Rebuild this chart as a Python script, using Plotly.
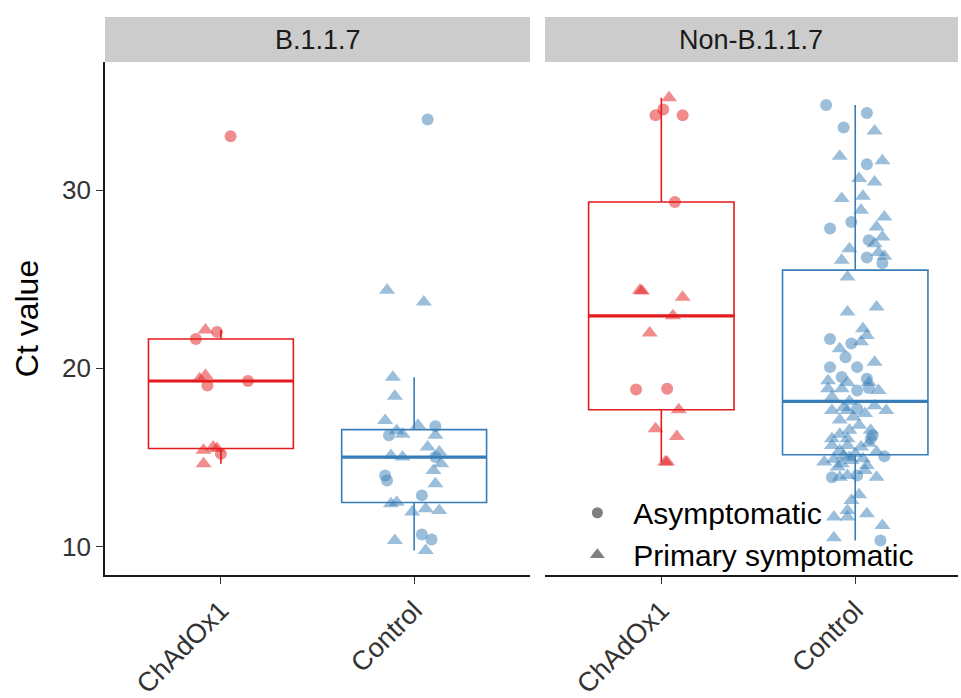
import numpy as np
import plotly.graph_objects as go

# ---------------- data ----------------
variants = ["B.1.1.7", "Non-B.1.1.7"]
arms = ["ChAdOx1", "Control"]
y_ticks = [10, 20, 30]
symptom_labels = {"A": "Asymptomatic", "P": "Primary symptomatic"}

# B.1.1.7 / ChAdOx1
b117_chadox_ct = [33.03, 22.15, 22.04, 21.65, 19.42, 19.6, 19.04, 19.29, 15.4, 15.58, 15.5, 15.2, 14.65]
b117_chadox_sym = ["A", "P", "A", "A", "P", "P", "A", "A", "P", "P", "P", "A", "P"]
b117_chadox_jit = [0.05, -0.08, -0.02, -0.13, -0.11, -0.08, -0.07, 0.14, -0.09, -0.04, -0.02, 0.00, -0.09]

# B.1.1.7 / Control
b117_control_ct = [33.97, 24.38, 23.73, 19.5, 18.43, 17.08, 16.8, 16.75, 16.24, 16.5,
                   16.3, 16.24, 15.58, 15.3, 15.11, 15.02, 15.02, 14.65, 14.27, 13.99,
                   13.71, 13.52, 12.87, 12.4, 12.49, 11.93, 12.12, 12.02, 10.67, 10.39,
                   10.34, 9.78]
b117_control_sym = ["A", "P", "P", "P", "P", "P", "P", "A", "A", "P",
                    "P", "P", "P", "P", "P", "P", "A", "P", "P", "A",
                    "A", "P", "A", "P", "P", "P", "P", "P", "A", "A",
                    "P", "P"]
b117_control_jit = [0.07, -0.14, 0.05, -0.11, -0.10, -0.15, 0.02, 0.11, -0.13, -0.09,
                    -0.06, 0.11, 0.07, 0.13, -0.12, -0.06, 0.11, 0.14, 0.10, -0.15,
                    -0.14, 0.11, 0.04, -0.12, -0.09, -0.01, 0.06, 0.13, 0.04, 0.09,
                    -0.10, 0.06]

# Non-B.1.1.7 / ChAdOx1
non_chadox_ct = [35.2, 34.53, 34.21, 34.21, 29.34, 24.38, 24.34, 24.0, 22.95, 21.98,
                 18.82, 18.86, 17.68, 16.61, 16.18, 14.75, 14.75]
non_chadox_sym = ["P", "A", "A", "A", "A", "P", "P", "P", "P", "P",
                  "A", "A", "P", "P", "P", "P", "P"]
non_chadox_jit = [0.04, 0.01, -0.03, 0.11, 0.07, -0.11, -0.10, 0.11, 0.06, -0.06,
                  -0.13, 0.03, 0.09, -0.03, 0.08, 0.02, 0.03]

# Non-B.1.1.7 / Control
non_control_ct = [34.78, 34.34, 33.52, 33.33, 31.91, 31.46, 31.65, 30.66, 30.47, 29.53,
                  29.66, 28.88, 28.22, 27.85, 27.94, 27.38, 27.0, 26.72, 26.07, 26.22,
                  26.3, 25.9, 26.5, 27.2, 28.5,
                  25.13, 23.16, 23.44, 22.23, 21.85, 21.65, 21.4, 21.5, 21.1, 20.63,
                  20.35, 20.07, 20.07, 19.51, 19.3, 19.42, 19.2, 19.2, 18.76, 18.76,
                  18.86, 18.86, 18.9, 18.4,
                  18.15,
                  17.64, 17.64, 17.74, 17.46, 17.64, 17.27, 17.9, 17.8, 17.1, 16.8,
                  16.52, 16.52, 16.24, 16.3, 16.05, 16.05, 16.05, 15.8, 15.67, 15.67,
                  15.58, 15.39, 15.3, 15.2,
                  15.1, 15.06, 15.0, 14.93, 14.9, 14.83, 14.74, 14.65, 14.55, 14.46,
                  14.27, 13.99, 13.99, 13.89, 13.89, 13.89, 12.9, 12.58, 12.02, 11.84,
                  11.65, 11.65, 11.18, 10.49, 10.34]
non_control_sym = ["A", "A", "A", "P", "P", "A", "P", "P", "P", "P",
                   "P", "P", "A", "A", "P", "P", "P", "P", "P", "A",
                   "P", "A", "P", "A", "P",
                   "P", "P", "P", "P", "P", "A", "A", "P", "P", "A",
                   "P", "A", "A", "A", "P", "A", "P", "P", "A", "P",
                   "P", "P", "A", "P",
                   "P",
                   "P", "P", "A", "P", "P", "P", "P", "P", "P", "P",
                   "P", "P", "A", "P", "P", "P", "A", "P", "P", "P",
                   "P", "P", "P", "P",
                   "P", "A", "P", "P", "P", "P", "P", "P", "P", "P",
                   "P", "A", "P", "A", "P", "P", "P", "P", "P", "P",
                   "P", "P", "P", "P", "A"]
non_control_jit = [-0.15, 0.06, -0.06, 0.10, -0.08, 0.06, 0.14, 0.02, 0.10, -0.07,
                   0.04, 0.03, -0.02, -0.13, 0.11, 0.14, 0.10, -0.03, -0.07, 0.06,
                   0.15, 0.14, 0.12, 0.07, 0.15,
                   -0.04, -0.04, 0.11, 0.04, 0.06, -0.13, -0.02, 0.03, -0.08, -0.05,
                   0.10, -0.13, 0.01, -0.07, -0.14, 0.06, 0.07, -0.04, 0.01, 0.12,
                   -0.14, -0.07, 0.07, -0.12,
                   -0.03,
                   -0.12, -0.04, 0.01, 0.05, 0.16, -0.01, 0.10, -0.06, -0.08, 0.02,
                   -0.03, 0.08, 0.09, -0.08, -0.12, -0.04, 0.08, 0.07, -0.12, -0.04,
                   0.03, -0.08, 0.11, 0.00,
                   -0.06, 0.15, -0.03, 0.04, -0.11, -0.02, -0.16, -0.07, 0.06, -0.09,
                   0.05, 0.01, -0.04, -0.12, -0.08, 0.11, 0.02, -0.02, -0.04, 0.06,
                   -0.11, -0.04, 0.14, -0.11, 0.13]

# ---------------- style ----------------
arm_line = {"ChAdOx1": "#E41A1C", "Control": "#377EB8"}
arm_fill = {"ChAdOx1": "rgba(228,26,28,0.5)", "Control": "rgba(55,126,184,0.5)"}
sym_marker = {"A": ("circle", 12), "P": ("triangle-up", 14)}
FONT = "Liberation Sans, Arial, Helvetica, sans-serif"
BOX_W = 0.75

groups = [
    (0, "ChAdOx1", b117_chadox_ct, b117_chadox_sym, b117_chadox_jit),
    (0, "Control", b117_control_ct, b117_control_sym, b117_control_jit),
    (1, "ChAdOx1", non_chadox_ct, non_chadox_sym, non_chadox_jit),
    (1, "Control", non_control_ct, non_control_sym, non_control_jit),
]

fig = go.Figure()
for panel, arm, ct, sym, jit in groups:
    xa = "x" if panel == 0 else "x2"
    ya = "y" if panel == 0 else "y2"
    pos = arms.index(arm) + 1
    vals = np.array(ct)
    q1, med, q3 = np.percentile(vals, [25, 50, 75])
    iqr = q3 - q1
    lo = vals[vals >= q1 - 1.5 * iqr].min()
    hi = vals[vals <= q3 + 1.5 * iqr].max()
    fig.add_trace(go.Box(
        x=[pos], q1=[q1], median=[med], q3=[q3], lowerfence=[lo], upperfence=[hi],
        width=BOX_W, whiskerwidth=0, boxpoints=False,
        line=dict(color=arm_line[arm], width=1.6), fillcolor="rgba(0,0,0,0)",
        xaxis=xa, yaxis=ya, showlegend=False, hoverinfo="skip"))
    # thicker median (ggplot fatten)
    fig.add_trace(go.Scatter(
        x=[pos - BOX_W / 2, pos + BOX_W / 2], y=[med, med], mode="lines",
        line=dict(color=arm_line[arm], width=3.2), xaxis=xa, yaxis=ya,
        showlegend=False, hoverinfo="skip"))
    for s in ["A", "P"]:
        pts = [(pos + j, c) for c, k, j in zip(ct, sym, jit, strict=True) if k == s]
        if not pts:
            continue
        fig.add_trace(go.Scatter(
            x=[p[0] for p in pts], y=[p[1] for p in pts], mode="markers",
            marker=dict(symbol=sym_marker[s][0], size=sym_marker[s][1],
                        color=arm_fill[arm], line=dict(width=0)),
            xaxis=xa, yaxis=ya, showlegend=False, hoverinfo="skip"))

# legend-only entries
for i, s in enumerate(["A", "P"]):
    fig.add_trace(go.Scatter(
        x=[None], y=[None], mode="markers", name=symptom_labels[s],
        legendgroup=s,
        marker=dict(symbol=sym_marker[s][0], size=sym_marker[s][1] - 1,
                    color="rgba(0,0,0,0.5)", line=dict(width=0)),
        xaxis="x2", yaxis="y2", showlegend=True))

axis_common = dict(showgrid=False, zeroline=False, showline=True, linecolor="#1a1a1a",
                   linewidth=1.6, ticks="outside", ticklen=7, tickwidth=1.3,
                   tickcolor="#333333", automargin=False)

YR = [8.4, 37.2]
fig.update_layout(
    width=961, height=698,
    paper_bgcolor="white", plot_bgcolor="white",
    margin=dict(l=105, r=3, t=62, b=123),
    font=dict(family=FONT),
    xaxis=dict(domain=[0, 0.4983], range=[0.4, 2.6], tickvals=[1, 2], ticktext=arms,
               tickangle=-45, anchor="y",
               tickfont=dict(family=FONT, size=27, color="#333333"), **axis_common),
    xaxis2=dict(domain=[0.5158, 1], range=[0.4, 2.53], tickvals=[1, 2], ticktext=arms,
                tickangle=-45, anchor="y2",
                tickfont=dict(family=FONT, size=27, color="#333333"), **axis_common),
    yaxis=dict(range=YR, tickvals=y_ticks, anchor="x",
               tickfont=dict(family=FONT, size=26, color="#333333"),
               title=dict(text="Ct value", font=dict(family=FONT, size=32, color="black"),
                          standoff=14),
               **axis_common),
    yaxis2=dict(range=YR, anchor="x2", matches="y", showgrid=False, zeroline=False,
                showline=False, showticklabels=False, ticks=""),
    legend=dict(x=0.535, y=0.172, xanchor="left", yanchor="top",
                bgcolor="rgba(0,0,0,0)", font=dict(family=FONT, size=30, color="black"),
                tracegroupgap=0, itemwidth=62),
    showlegend=True,
)

strip_h = 45 / 513
for i, v in enumerate(variants):
    xref = "x domain" if i == 0 else "x2 domain"
    fig.add_shape(type="rect", xref=xref, yref="paper", x0=0, x1=1, y0=1.0,
                  y1=1.0 + strip_h, fillcolor="#CCCCCC", line=dict(width=0), layer="below")
    fig.add_annotation(xref=xref, yref="paper", x=0.5, y=1.0 + strip_h / 2,
                       text=v, showarrow=False, xanchor="center", yanchor="middle",
                       font=dict(family=FONT, size=27, color="#1A1A1A"))

fig.write_html("out.html", config={"displayModeBar": False},
               post_script="document.body.style.margin='0';")
